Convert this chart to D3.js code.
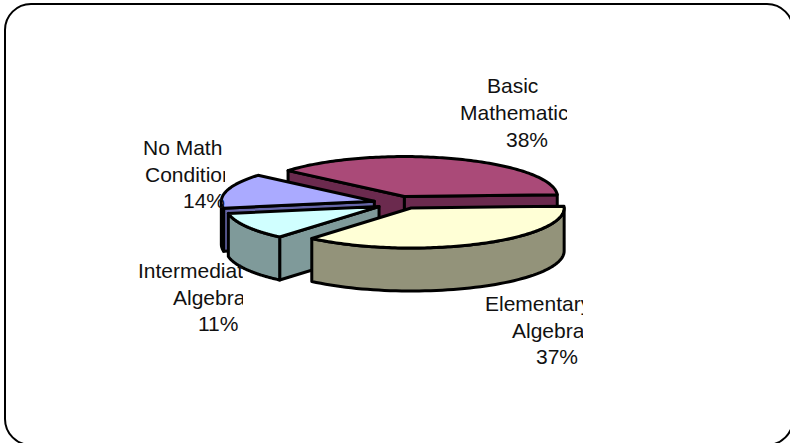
<!DOCTYPE html>
<html><head><meta charset="utf-8">
<script src="https://cdn.jsdelivr.net/npm/d3@7"></script>
<style>html,body{margin:0;padding:0;background:#fff;overflow:hidden}svg{display:block}</style>
</head><body><svg id="c" width="790" height="443"></svg>
<script>
const categories = ["Basic Mathematics","Elementary Algebra","Intermediate Algebra","No Math Conditions"];
const values = [38,37,11,14];
const topColors = ["#AA4A78","#FFFFD6","#D0FFFF","#AAAAFF"];
const wallColors = ["#6B2A4E","#93937A","#7F9A9A","#6666A8"];
const explodeX = [.19,.24,.12,.14];
const explodeY = [.17,.14,.18,.16];
const drawOrder = [0,3,2,1];
const labelLines = [
  [["Basic",487,93],["Mathematics",460,120],["38%",506,147]],
  [["Elementary",485,311],["Algebra",512,338],["37%",536,364]],
  [["Intermediate",138,278],["Algebra",173,305],["11%",198,331]],
  [["No Math",143,155],["Conditions",145,182],["14%",183,208]]
];
const labelClipRight = [567,583,243,225];

const cx=395, cy=203, rx=153, ry=40, depth=43;
const svg=d3.select("#c");
svg.append("rect").attr("x",5).attr("y",4).attr("width",788).attr("height",441).attr("rx",26).attr("ry",26)
  .attr("fill","#fff").attr("stroke","#000").attr("stroke-width",2);

const start=-49.5*Math.PI/180;
const arcs=d3.pie().sort(null).startAngle(start).endAngle(start+2*Math.PI)(values);
const lineClosed=d3.line().curve(d3.curveLinearClosed);

drawOrder.forEach(i=>{
  const a=arcs[i], mid=(a.startAngle+a.endAngle)/2;
  const ox=cx+Math.sin(mid)*rx*explodeX[i], oy=cy-Math.cos(mid)*ry*explodeY[i];
  const pt=(t,d=0)=>[ox+rx*Math.sin(t), oy-ry*Math.cos(t)+d];
  const g=svg.append("g").attr("stroke","#000").attr("stroke-width",3).attr("stroke-linejoin","round");
  // cut faces that look toward the viewer
  const face=t=>g.append("path").attr("fill",wallColors[i]).attr("d",lineClosed([[ox,oy],pt(t),pt(t,depth),[ox,oy+depth]]));
  if(Math.sin(a.startAngle)<0) face(a.startAngle);
  if(Math.sin(a.endAngle)>0) face(a.endAngle);
  // outer wall: only the part facing the viewer
  const lo=Math.max(a.startAngle,Math.PI/2), hi=Math.min(a.endAngle,Math.PI*1.5);
  if(hi>lo){
    const ts=d3.range(0,61).map(k=>lo+(hi-lo)*k/60);
    g.append("path").attr("fill",wallColors[i]).attr("d",lineClosed(ts.map(t=>pt(t)).concat(ts.slice().reverse().map(t=>pt(t,depth)))));
  }
  // top
  const n=120, ts=d3.range(0,n+1).map(k=>a.startAngle+(a.endAngle-a.startAngle)*k/n);
  g.append("path").attr("fill",topColors[i]).attr("d",lineClosed([[ox,oy]].concat(ts.map(t=>pt(t)))));
});

const defs=svg.append("defs");
categories.forEach((c,i)=>{
  defs.append("clipPath").attr("id","lc"+i).append("rect").attr("x",0).attr("y",0).attr("width",labelClipRight[i]).attr("height",443);
  const g=svg.append("g").attr("clip-path",`url(#lc${i})`);
  labelLines[i].forEach(l=>{
    g.append("text").attr("x",l[1]).attr("y",l[2]).text(l[0])
      .attr("font-family","'Liberation Sans',Arial,sans-serif").attr("font-size",21).attr("fill","#111");
  });
});
</script></body></html>
